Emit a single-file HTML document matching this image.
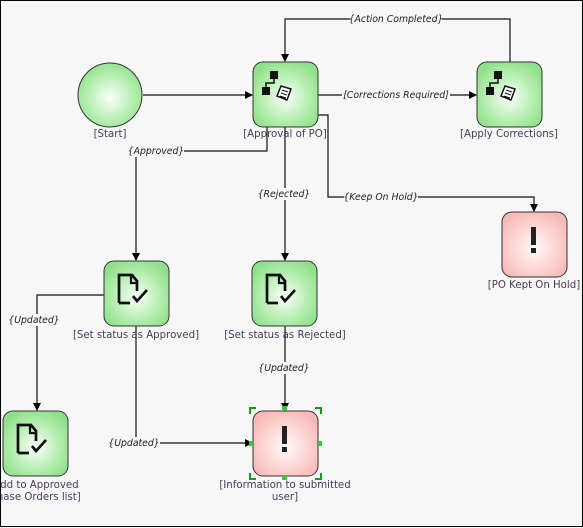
<!DOCTYPE html>
<html><head><style>
html,body{margin:0;padding:0;background:#f7f7f7;}
svg{display:block;}
text{font-family:"DejaVu Sans","Liberation Sans",sans-serif;}
.lbl{font-size:10.2px;fill:#4a3a5a;text-anchor:middle;}
.cl{font-size:9.3px;font-style:italic;fill:#222;text-anchor:middle;}
.ln{stroke:#111;stroke-width:1.2;fill:none;}
</style></head><body>
<svg width="583" height="528" viewBox="0 0 583 528" xmlns="http://www.w3.org/2000/svg">
<defs>
<radialGradient id="g" cx="0.5" cy="0.55" r="0.6"><stop offset="0" stop-color="#fbfffb"/><stop offset="0.6" stop-color="#b5eeb0"/><stop offset="1" stop-color="#8fe08a"/></radialGradient>
<radialGradient id="p" cx="0.5" cy="0.55" r="0.6"><stop offset="0" stop-color="#fffafa"/><stop offset="0.6" stop-color="#fcd3d0"/><stop offset="1" stop-color="#f6b9b5"/></radialGradient>
<marker id="a" markerWidth="8" markerHeight="8" refX="7" refY="4" orient="auto" markerUnits="userSpaceOnUse"><path d="M0,0 L8,4 L0,8 z" fill="#000"/></marker>
<g id="flow"><rect x="17" y="9" width="8" height="8" fill="#111"/><path d="M21,17 V21 H13 V25" stroke="#111" stroke-width="1.5" fill="none"/><rect x="9" y="25" width="8" height="8" fill="#111"/><path d="M24,34 L28,24 L38,27 L34,38 Z" fill="#fff" stroke="#111" stroke-width="1.5"/><path d="M29,28 L35,30 M28,31 L34,33 M27,34 L33,36" stroke="#111" stroke-width="1"/></g>
<g id="doc"><path d="M15,42 V14 H28 L33,20 V30" stroke="#111" stroke-width="2.7" fill="none"/><path d="M15,42 H26" stroke="#111" stroke-width="2.7"/><path d="M27,14 V22 H33" stroke="#111" stroke-width="2.2" fill="none"/><path d="M29,35 L33,40 L43,29" stroke="#111" stroke-width="2.7" fill="none"/></g>
<g id="ex"><rect x="29" y="15" width="5" height="18" fill="#222"/><rect x="29" y="36" width="5" height="5" fill="#222"/></g>
</defs>
<rect x="0.5" y="0.5" width="582" height="526" fill="#f7f7f7" stroke="#000"/>

<path class="ln" d="M143,95 H252" marker-end="url(#a)"/>
<path class="ln" d="M318,95 H476" marker-end="url(#a)"/>
<path class="ln" d="M510,62 V19 H285 V61" marker-end="url(#a)"/>
<path class="ln" d="M267,127 V151 H136 V260" marker-end="url(#a)"/>
<path class="ln" d="M285,127 V260" marker-end="url(#a)"/>
<path class="ln" d="M318,115 H328 V197 H534 V211" marker-end="url(#a)"/>
<path class="ln" d="M104,295 H37 V410" marker-end="url(#a)"/>
<path class="ln" d="M136,326 V443 H252" marker-end="url(#a)"/>
<path class="ln" d="M285,326 V410" marker-end="url(#a)"/>

<g>
<rect x="350" y="13" width="92" height="12" fill="#f7f7f7"/><text class="cl" x="396" y="22">{Action Completed}</text>
<rect x="342" y="89" width="108" height="12" fill="#f7f7f7"/><text class="cl" x="396" y="98">[Corrections Required]</text>
<rect x="128" y="145" width="56" height="12" fill="#f7f7f7"/><text class="cl" x="156" y="154">{Approved}</text>
<rect x="258" y="188" width="52" height="12" fill="#f7f7f7"/><text class="cl" x="284" y="197">{Rejected}</text>
<rect x="344" y="191" width="74" height="12" fill="#f7f7f7"/><text class="cl" x="381" y="200">{Keep On Hold}</text>
<rect x="9" y="314" width="50" height="12" fill="#f7f7f7"/><text class="cl" x="34" y="323">{Updated}</text>
<rect x="110" y="437" width="50" height="12" fill="#f7f7f7"/><text class="cl" x="134" y="446">{Updated}</text>
<rect x="259" y="362" width="50" height="12" fill="#f7f7f7"/><text class="cl" x="284" y="371">{Updated}</text>
</g>

<circle cx="110" cy="95" r="32" fill="url(#g)" stroke="#333"/>
<text class="lbl" x="110" y="137">[Start]</text>

<g transform="translate(253,62)"><rect width="65" height="65" rx="10" fill="url(#g)" stroke="#333"/><use href="#flow"/></g>
<text class="lbl" x="285" y="137">[Approval of PO]</text>

<g transform="translate(477,62)"><rect width="65" height="65" rx="10" fill="url(#g)" stroke="#333"/><use href="#flow"/></g>
<text class="lbl" x="509" y="137">[Apply Corrections]</text>

<g transform="translate(502,212)"><rect width="65" height="65" rx="10" fill="url(#p)" stroke="#333"/><use href="#ex"/></g>
<text class="lbl" x="534" y="288">[PO Kept On Hold]</text>

<g transform="translate(104,261)"><rect width="65" height="65" rx="10" fill="url(#g)" stroke="#333"/><use href="#doc"/></g>
<text class="lbl" x="136" y="338">[Set status as Approved]</text>

<g transform="translate(252,261)"><rect width="65" height="65" rx="10" fill="url(#g)" stroke="#333"/><use href="#doc"/></g>
<text class="lbl" x="285" y="338">[Set status as Rejected]</text>

<g transform="translate(3,411)"><rect width="65" height="65" rx="10" fill="url(#g)" stroke="#333"/><use href="#doc"/></g>
<text class="lbl" x="36" y="488">Add to Approved</text>
<text class="lbl" x="36" y="500">chase Orders list]</text>

<g transform="translate(253,411)"><rect width="65" height="65" rx="10" fill="url(#p)" stroke="#333"/><use href="#ex"/></g>
<g stroke="#1a9a1a" stroke-width="2" fill="none">
<path d="M250,414 V408 H256"/><path d="M315,408 H321 V414"/><path d="M250,473 V479 H256"/><path d="M315,479 H321 V473"/>
</g>
<g fill="#3c3">
<rect x="282" y="406" width="5" height="4"/><rect x="282" y="476" width="5" height="4"/><rect x="249" y="441" width="4" height="5"/><rect x="318" y="441" width="4" height="5"/>
</g>
<text class="lbl" x="285" y="488">[Information to submitted</text>
<text class="lbl" x="285" y="500">user]</text>
</svg>
</body></html>
